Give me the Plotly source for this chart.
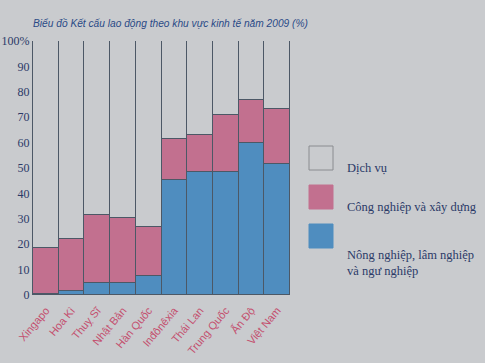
import plotly.graph_objects as go

countries = ["Xingapo", "Hoa Kì", "Thuỵ Sĩ", "Nhật Bản", "Hàn Quốc",
             "Inđônêxia", "Thái Lan", "Trung Quốc", "Ấn Độ", "Việt Nam"]
nong_nghiep = [0.5, 1.5, 4.6, 4.8, 7.6, 45.3, 48.5, 48.5, 59.7, 51.5]
cong_nghiep = [17.9, 20.4, 26.9, 25.6, 19.3, 16.1, 14.5, 22.4, 17.1, 21.7]
dich_vu = [81.6, 78.1, 68.5, 69.6, 73.1, 38.6, 37.0, 29.1, 23.2, 26.8]
y_ticks = [0, 10, 20, 30, 40, 50, 60, 70, 80, 90, 100]
y_ticktext = ["0", "10", "20", "30", "40", "50", "60", "70", "80", "90", "100%"]

BG = "#c9cbce"
PINK = "#c2708f"
BLUE = "#4f8dbf"
EDGE = "#4c5866"
TXT = "#2b3a68"

L, R, T, B = 33, 290, 41, 295  # plot area in px
PW, PH = R - L, B - T

fig = go.Figure()
for name, vals, col in [("Nông nghiệp, lâm nghiệp và ngư nghiệp", nong_nghiep, BLUE),
                        ("Công nghiệp và xây dựng", cong_nghiep, PINK),
                        ("Dịch vụ", dich_vu, BG)]:
    fig.add_trace(go.Bar(x=countries, y=vals, name=name,
                         marker=dict(color=col, line=dict(color=EDGE, width=1))))

fig.update_layout(
    width=485, height=363,
    barmode="stack", bargap=0,
    showlegend=False,
    paper_bgcolor=BG, plot_bgcolor=BG,
    margin=dict(l=L, r=485 - R, t=T, b=363 - B),
    xaxis=dict(tickangle=-50, showgrid=False, ticks="", automargin=False,
               ticklabelstandoff=6,
               tickfont=dict(family="Liberation Sans, Arial", size=11, color="#c4506e")),
    yaxis=dict(range=[0, 100], tickvals=y_ticks, ticktext=y_ticktext, automargin=False,
               showgrid=False, zeroline=False, ticks="", showline=True,
               linecolor=EDGE, linewidth=1,
               tickfont=dict(family="Liberation Serif, Times New Roman", size=12, color=TXT)),
)

fig.add_annotation(text="<i>Biểu đồ Kết cấu lao động theo khu vực kinh tế năm 2009 (%)</i>",
                   xref="paper", yref="paper", x=(31 - L) / PW, y=1.0, yshift=18,
                   xanchor="left", yanchor="middle", showarrow=False,
                   font=dict(family="Liberation Sans, Arial", size=10.2, color="#2a4a86"))

# custom legend
legend_items = [("Dịch vụ", BG, 146), ("Công nghiệp và xây dựng", PINK, 185),
                ("Nông nghiệp, lâm nghiệp<br>và ngư nghiệp", BLUE, 224)]
for label, col, ytop in legend_items:
    fig.add_shape(type="rect", xref="paper", yref="paper",
                  x0=(309 - L) / PW, x1=(333 - L) / PW,
                  y0=(B - (ytop + 24)) / PH, y1=(B - ytop) / PH,
                  fillcolor=col, line=dict(color="#8a8c90" if col == BG else col, width=1))
    fig.add_annotation(text=label, xref="paper", yref="paper",
                       x=(345 - L) / PW, y=(B - (ytop + 22)) / PH,
                       xanchor="left", yanchor="top" if "<br>" in label else "middle",
                       align="left", showarrow=False,
                       font=dict(family="Liberation Serif, Times New Roman", size=12.5, color=TXT))

fig.write_html("out.html",
               config={"displayModeBar": False},
               post_script="document.body.style.margin='0';"
                           "document.body.style.background='#c9cbce';")
